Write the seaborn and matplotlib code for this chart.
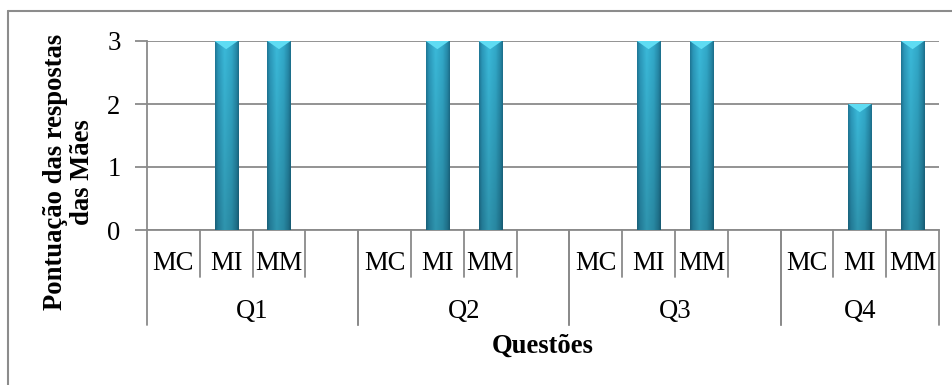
import numpy as np
import pandas as pd
import matplotlib
matplotlib.use("Agg")
import matplotlib.pyplot as plt
from matplotlib.colors import LinearSegmentedColormap
from matplotlib.patches import Polygon
from matplotlib.lines import Line2D
import matplotlib.transforms as mtransforms
import seaborn as sns

# ---- data ----
questions = ["Q1", "Q2", "Q3", "Q4"]
subcats = ["MC", "MI", "MM"]
q1_values = [0, 3, 3]
q2_values = [0, 3, 3]
q3_values = [0, 3, 3]
q4_values = [0, 2, 3]
y_ticks = [0, 1, 2, 3]
x_title = "Questões"
y_title = "Pontuação das respostas\ndas Mães"

series = [q1_values, q2_values, q3_values, q4_values]
rows, order, groups = [], [], []
for qi, (q, vals) in enumerate(zip(questions, series)):
    start = len(order)
    for s, v in zip(subcats, vals):
        key = f"{q}|{s}"
        rows.append({"slot": key, "valor": v})
        order.append(key)
    if qi < len(questions) - 1:
        order.append(f"{q}|gap")
    groups.append((q, start, len(order) - 1))
df = pd.DataFrame(rows)

# ---- style ----
sns.set_style("white")
plt.rcParams["font.family"] = ["Liberation Serif", "DejaVu Serif"]
plt.rcParams["text.color"] = "black"
plt.rcParams["ytick.labelcolor"] = "black"
FS = 19.2
GRID = "#8a8a8a"
W, H = 953, 385

fig = plt.figure(figsize=(W / 100, H / 100), dpi=100)
ax = fig.add_axes([147 / W, 1 - 230 / H, (939 - 147) / W, (230 - 41) / H])

sns.barplot(data=df, x="slot", y="valor", order=order, color="#31aacb",
            width=0.44, errorbar=None, ax=ax, zorder=3, linewidth=0)

ax.set_xlim(-0.5, len(order) - 0.5)
ax.set_ylim(0, 3)

# bevel-like gradient on bars
prof = LinearSegmentedColormap.from_list(
    "bevel", [(0, "#1f7796"), (0.12, "#2b98ba"), (0.4, "#3bbada"),
              (0.7, "#32a9c9"), (0.9, "#268aa9"), (1, "#1c6f8c")])
base = prof(np.linspace(0, 1, 64))[:, :3]
vert = np.linspace(1.0, 0.8, 64)[:, None, None]
img = np.clip(base[None, :, :] * vert, 0, 1)
for p in list(ax.patches):
    h = p.get_height()
    if not np.isfinite(h) or h <= 0:
        continue
    x0, w = p.get_x(), p.get_width()
    ax.imshow(img, extent=[x0, x0 + w, 0, h], origin="upper", aspect="auto",
              zorder=3.5, interpolation="bilinear")
    cap = 0.13
    ax.add_patch(Polygon([[x0, h], [x0 + w, h], [x0 + w / 2, h - cap]],
                         closed=True, facecolor="#5fdcf3", edgecolor="none",
                         zorder=4))
ax.set_xlim(-0.5, len(order) - 0.5)
ax.set_ylim(0, 3)

# axes styling
ax.set_yticks(y_ticks)
ax.yaxis.grid(True, color=GRID, lw=1.3)
ax.xaxis.grid(False)
ax.set_axisbelow(True)
ax.tick_params(axis="y", length=9, width=1.3, color=GRID, pad=10,
               labelsize=FS, labelcolor="black", direction="out", left=True)
ax.set_xticks([])
ax.set_xlabel("")
ax.set_ylabel("")
for side in ["top", "right"]:
    ax.spines[side].set_visible(False)
for side in ["left", "bottom"]:
    ax.spines[side].set_color(GRID)
    ax.spines[side].set_linewidth(1.3)

# multi-level category axis
trans = mtransforms.blended_transform_factory(ax.transData, ax.transAxes)
for idx, key in enumerate(order):
    q, s = key.split("|")
    if s != "gap":
        ax.text(idx, -0.2116, s, transform=trans, ha="center", va="baseline",
                fontsize=FS, color="black")
for q, a, b in groups:
    ax.text((a + b) / 2, -0.4656, q, transform=trans, ha="center",
            va="baseline", fontsize=FS, color="black")
    for i in range(a, b):
        ax.add_line(Line2D([i + 0.5, i + 0.5], [0, -0.2487], transform=trans,
                           color=GRID, lw=1.3, clip_on=False))
    for edge in (a - 0.5, b + 0.5):
        ax.add_line(Line2D([edge, edge], [0, -0.5026], transform=trans,
                           color=GRID, lw=1.3, clip_on=False))

ax.text(0.5, -0.651, x_title, transform=ax.transAxes, ha="center",
        va="baseline", fontsize=FS, fontweight="bold", color="black")
fig.text(69 / W, 1 - 172 / H, y_title, rotation=90, ha="center", va="center",
         fontsize=FS, fontweight="bold", multialignment="center",
         linespacing=1.15, color="black")

# outer chart border (left and top visible)
fig.add_artist(Line2D([8 / W, 8 / W], [0, 1 - 11 / H], transform=fig.transFigure,
                      color="#8c8c8c", lw=1.5))
fig.add_artist(Line2D([8 / W, 1], [1 - 11 / H, 1 - 11 / H],
                      transform=fig.transFigure, color="#8c8c8c", lw=1.5))

fig.savefig("out.png", dpi=100)
